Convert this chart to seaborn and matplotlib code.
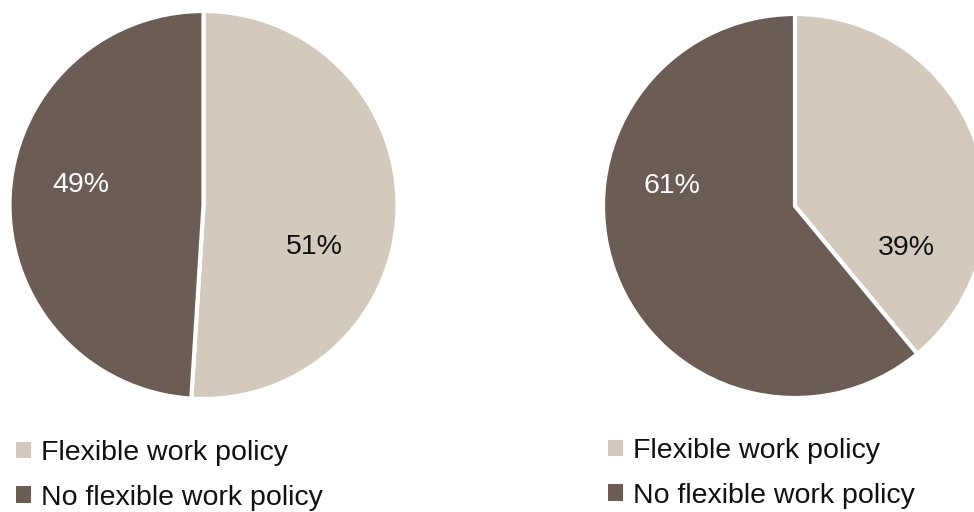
import matplotlib
matplotlib.use("Agg")
import matplotlib.pyplot as plt
from matplotlib.patches import Patch
import seaborn as sns

# Share of organisations with / without a flexible work policy
categories = ["Flexible work policy", "No flexible work policy"]
left_values = [51, 49]
right_values = [39, 61]
colors = ["#D3CABD", "#6B5D55"]
label_colors = ["#111111", "white"]

sns.set_theme(style="white")
plt.rcParams["font.family"] = ["Liberation Sans", "DejaVu Sans"]

W, H = 974, 512
fig = plt.figure(figsize=(W / 100, H / 100), dpi=100)
ax = fig.add_axes([0, 0, 1, 1])


def draw_pie(values, cx, cy, r):
    ax.pie(values, colors=colors, startangle=90, counterclock=False,
           center=(cx, H - cy), radius=r,
           wedgeprops=dict(edgecolor="white", linewidth=3))
    offsets = [(111, 42), (-123, -20)]
    for v, (dx, dy), c in zip(values, offsets, label_colors):
        ax.text(cx + dx, H - (cy + dy), f"{v}%", ha="center", va="center",
                fontsize=20.5, color=c)


draw_pie(left_values, 203.5, 205, 194)
draw_pie(right_values, 795, 206, 192)

ax.set_xlim(0, W)
ax.set_ylim(0, H)
ax.set_aspect("equal")
ax.axis("off")

handles = [Patch(facecolor=c, edgecolor="none") for c in colors]
legend_kw = dict(loc="upper left", bbox_transform=fig.transFigure,
                 frameon=False, fontsize=20.5, handlelength=0.53,
                 handleheight=0.53, handletextpad=0.36, labelspacing=0.66,
                 borderaxespad=0, borderpad=0, labelcolor="#111111")
leg1 = ax.legend(handles, categories,
                 bbox_to_anchor=(16 / W, 1 - 440 / H), **legend_kw)
ax.add_artist(leg1)
ax.legend(handles, categories,
          bbox_to_anchor=(608 / W, 1 - 438 / H), **legend_kw)

fig.savefig("out.png", dpi=100, facecolor="white")
